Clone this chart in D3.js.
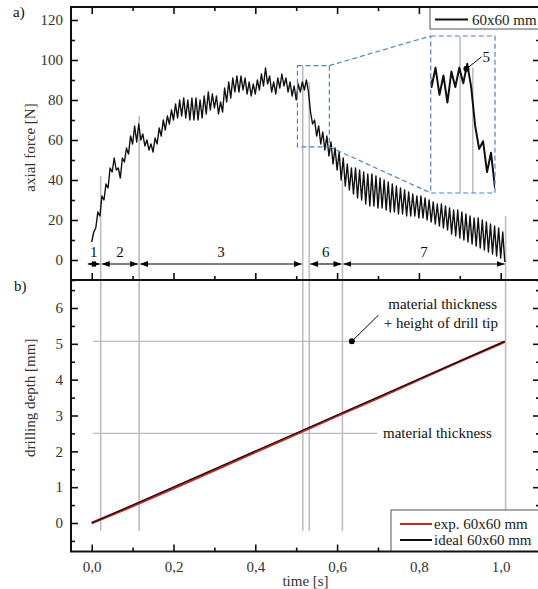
<!DOCTYPE html>
<html>
<head>
<meta charset="utf-8">
<script src="https://cdn.jsdelivr.net/npm/d3@7"></script>
<style>
  body { margin: 0; background: #fff; }
  svg { font-family: "Liberation Serif", "Times New Roman", serif; }
</style>
</head>
<body>
<svg id="chart" width="538" height="589"></svg>
<script>
// axial force [N], one sample every 0.005 s starting at t = 0
const forceStep = 0.005
const force = [
  9, 14, 16, 24, 22, 32, 30, 38, 36, 46,
  44, 51, 45, 46, 41, 51, 49, 56, 53, 62,
  58, 67, 59, 68, 60, 63, 57, 60, 55, 58,
  54, 61, 58, 66, 62, 70, 65, 72, 68, 75,
  70, 78, 71, 80, 72, 81, 71, 80, 70, 81,
  70, 81, 70, 80, 71, 82, 73, 84, 75, 83,
  76, 82, 73, 79, 74, 86, 79, 89, 81, 91,
  84, 92, 84, 92, 85, 91, 83, 89, 82, 88,
  83, 90, 85, 93, 87, 96, 88, 92, 84, 89,
  83, 91, 86, 93, 87, 91, 84, 89, 82, 87,
  80, 88, 84, 89, 85, 90, 84, 74, 68, 70,
  62, 67, 58, 64, 55, 62, 52, 59, 48, 56,
  45, 54, 40, 51, 37, 48, 35, 46, 33, 46,
  31, 45, 30, 44, 28, 43, 27, 43, 27, 42,
  26, 41, 26, 40, 25, 39, 24, 38, 24, 37,
  23, 36, 23, 35, 22, 34, 22, 33, 22, 32,
  21, 32, 21, 31, 20, 30, 19, 29, 18, 28,
  17, 28, 16, 27, 15, 26, 13, 25, 12, 25,
  11, 24, 10, 23, 9, 22, 8, 21, 7, 21,
  6, 20, 5, 19, 4, 18, 3, 17, 2, 16,
  1, 14, -1
]

// drilling depth [mm]
const depthTime = [0, 0.1, 0.2, 0.3, 0.4, 0.5, 0.6, 0.7, 0.8, 0.9, 1.0, 1.01]
const expDepth = [0, 0.47, 0.97, 1.47, 1.98, 2.48, 2.99, 3.49, 4.0, 4.51, 5.01, 5.06]
const idealTime = [0, 1.01]
const idealDepth = [0, 5.07]

// phase boundaries [s] and how far up the grey marker reaches in a) [N]
const phaseBounds = [0.022, 0.116, 0.516, 0.532, 0.613, 1.012]
const boundTop = [42, 72, 97, 89, 40, 22]
const phaseLabels = ['1', '2', '3', '6', '7']
const phaseFrom = [-0.012, 0.022, 0.116, 0.532, 0.613]
const phaseTo = [0.022, 0.116, 0.516, 0.613, 1.012]

const thickness = 2.5        // material thickness [mm]
const thicknessTip = 5.07    // + height of drill tip [mm]
const point5 = [0.524, 88.7]

const xTicks = [0, 0.2, 0.4, 0.6, 0.8, 1.0]
const xMinor = [0.1, 0.3, 0.5, 0.7, 0.9]
const forceTicks = [0, 20, 40, 60, 80, 100, 120]
const forceMinor = [-10, 10, 30, 50, 70, 90, 110]
const depthTicks = [0, 1, 2, 3, 4, 5, 6]
const depthMinor = [-0.5, 0.5, 1.5, 2.5, 3.5, 4.5, 5.5, 6.5]

// layout
const L = 71, R = 540
const aTop = 7, mid = 280, bBot = 551.5
const grey = '#bdbdbd', blue = '#4f86c6', red = '#c62828'
const fs = 15

const svg = d3.select('#chart')
const x = d3.scaleLinear().domain([0, 1]).range([91.7, 500.7])
const yF = d3.scaleLinear().domain([0, 120]).range([260, 20])
const yD = d3.scaleLinear().domain([0, 6]).range([523, 308])
const comma = d3.formatLocale({decimal: ',', thousands: '.', grouping: [3], currency: ['', '']})

const defs = svg.append('defs')
defs.append('marker').attr('id', 'arr')
    .attr('markerUnits', 'userSpaceOnUse')
    .attr('viewBox', '0 0 8 6').attr('markerWidth', 8).attr('markerHeight', 6)
    .attr('refX', 8).attr('refY', 3).attr('orient', 'auto-start-reverse')
    .append('path').attr('d', 'M0,0L8,3L0,6Z').attr('fill', '#000')

function styleAxis(g) {
    g.select('.domain').remove()
    g.selectAll('.tick line').attr('stroke', '#111').attr('stroke-width', 1.6)
    g.selectAll('.tick text').attr('fill', '#333').attr('font-size', fs)
        .attr('font-family', '"Liberation Serif", serif')
}
function axisPair(axisFn, scale, major, minor, pos, isX, labels, fmt) {
    let g = svg.append('g').attr('transform', isX ? `translate(0,${pos})` : `translate(${pos},0)`)
    g.call(axisFn(scale).tickValues(major).tickSizeInner(-7).tickSizeOuter(0).tickPadding(isX ? 10 : 8)
        .tickFormat(labels ? fmt : ''))
    styleAxis(g)
    let m = svg.append('g').attr('transform', isX ? `translate(0,${pos})` : `translate(${pos},0)`)
    m.call(axisFn(scale).tickValues(minor).tickSizeInner(-4).tickSizeOuter(0).tickFormat(''))
    styleAxis(m)
}

// ---------- panel a) ----------
// phase boundary markers
svg.append('g').selectAll('line').data(phaseBounds).join('line')
    .attr('x1', d => x(d)).attr('x2', d => x(d))
    .attr('y1', mid).attr('y2', (d, i) => yF(boundTop[i]))
    .attr('stroke', grey).attr('stroke-width', 1.6)

const forceLine = d3.line().x((d, i) => x(i * forceStep)).y(d => yF(d))
svg.append('path').datum(force).attr('d', forceLine)
    .attr('fill', 'none').attr('stroke', '#111').attr('stroke-width', 1.4).attr('stroke-linejoin', 'round')

// phase arrows
const arrowY = yF(-2)
svg.append('g').selectAll('line').data(phaseLabels).join('line')
    .attr('x1', (d, i) => x(phaseFrom[i]) + 1).attr('x2', (d, i) => x(phaseTo[i]) - 1)
    .attr('y1', arrowY).attr('y2', arrowY)
    .attr('stroke', '#000').attr('stroke-width', 1.1)
    .attr('marker-start', 'url(#arr)').attr('marker-end', 'url(#arr)')
svg.append('g').selectAll('text').data(phaseLabels).join('text')
    .attr('x', (d, i) => (x(phaseFrom[i]) + x(phaseTo[i])) / 2).attr('y', yF(1.5))
    .attr('text-anchor', 'middle').attr('font-size', fs).attr('fill', '#111').text(d => d)

// zoom box and inset
const zoomT = [0.503, 0.581], zoomF = [56.6, 97.2]
const insetT = [0.829, 0.986], insetF = [33.5, 112]
svg.append('rect').attr('x', x(zoomT[0])).attr('y', yF(zoomF[1]))
    .attr('width', x(zoomT[1]) - x(zoomT[0])).attr('height', yF(zoomF[0]) - yF(zoomF[1]))
    .attr('fill', 'none').attr('stroke', blue).attr('stroke-width', 1.2).attr('stroke-dasharray', '5,3')
svg.append('line').attr('x1', x(zoomT[1])).attr('y1', yF(zoomF[1])).attr('x2', x(insetT[0])).attr('y2', yF(insetF[1]))
    .attr('stroke', blue).attr('stroke-width', 1.2).attr('stroke-dasharray', '5,3')
svg.append('line').attr('x1', x(zoomT[1])).attr('y1', yF(zoomF[0])).attr('x2', x(insetT[0])).attr('y2', yF(insetF[0]))
    .attr('stroke', blue).attr('stroke-width', 1.2).attr('stroke-dasharray', '5,3')

const ix = d3.scaleLinear().domain([0.479, 0.560]).range([x(insetT[0]), x(insetT[1])])
const iy = d3.scaleLinear().domain(zoomF).range([yF(insetF[0]), yF(insetF[1])])
defs.append('clipPath').attr('id', 'insetClip').append('rect')
    .attr('x', x(insetT[0])).attr('y', yF(insetF[1]))
    .attr('width', x(insetT[1]) - x(insetT[0])).attr('height', yF(insetF[0]) - yF(insetF[1]))
const inset = svg.append('g').attr('clip-path', 'url(#insetClip)')
inset.selectAll('line').data(phaseBounds.slice(2, 4)).join('line')
    .attr('x1', d => ix(d)).attr('x2', d => ix(d))
    .attr('y1', yF(insetF[0])).attr('y2', (d, i) => iy(boundTop[i + 2]))
    .attr('stroke', grey).attr('stroke-width', 1.6)
inset.append('path').datum(force)
    .attr('d', d3.line().x((d, i) => ix(i * forceStep)).y(d => iy(d)))
    .attr('fill', 'none').attr('stroke', '#111').attr('stroke-width', 2).attr('stroke-linejoin', 'round')
svg.append('rect').attr('x', x(insetT[0])).attr('y', yF(insetF[1]))
    .attr('width', x(insetT[1]) - x(insetT[0])).attr('height', yF(insetF[0]) - yF(insetF[1]))
    .attr('fill', 'none').attr('stroke', blue).attr('stroke-width', 1.2).attr('stroke-dasharray', '5,3')
svg.append('circle').attr('cx', ix(point5[0])).attr('cy', iy(point5[1])).attr('r', 3).attr('fill', '#000')
svg.append('line').attr('x1', ix(point5[0])).attr('y1', iy(point5[1]))
    .attr('x2', ix(point5[0]) + 15).attr('y2', iy(point5[1]) - 12).attr('stroke', '#000').attr('stroke-width', 1)
svg.append('text').attr('x', ix(point5[0]) + 16).attr('y', iy(point5[1]) - 7)
    .attr('font-size', fs).attr('fill', '#111').text('5')

// axes of a)
axisPair(d3.axisLeft, yF, forceTicks, forceMinor, L, false, true, d3.format('d'))
axisPair(d3.axisRight, yF, forceTicks, forceMinor, R, false, false)
axisPair(d3.axisTop, x, xTicks, xMinor, aTop, true, false)
axisPair(d3.axisBottom, x, xTicks, xMinor, mid, true, false)

// legend a)
svg.append('rect').attr('x', 430).attr('y', aTop).attr('width', 112).attr('height', 22)
    .attr('fill', '#fff').attr('stroke', '#555').attr('stroke-width', 1)
svg.append('line').attr('x1', 435).attr('x2', 468).attr('y1', 19.5).attr('y2', 19.5)
    .attr('stroke', '#111').attr('stroke-width', 2)
svg.append('text').attr('x', 472).attr('y', 24.5).attr('font-size', fs).attr('fill', '#222').text('60x60 mm')

// ---------- panel b) ----------
svg.append('g').selectAll('line').data(phaseBounds).join('line')
    .attr('x1', d => x(d)).attr('x2', d => x(d))
    .attr('y1', mid).attr('y2', yD(-0.22))
    .attr('stroke', grey).attr('stroke-width', 1.6)
svg.append('line').attr('x1', x(0.003)).attr('x2', x(phaseBounds[5]))
    .attr('y1', yD(thicknessTip)).attr('y2', yD(thicknessTip)).attr('stroke', grey).attr('stroke-width', 1.4)
svg.append('line').attr('x1', x(0.003)).attr('x2', x(0.699))
    .attr('y1', yD(thickness)).attr('y2', yD(thickness)).attr('stroke', grey).attr('stroke-width', 1.4)

const depthLine = d3.line().x(d => x(d[0])).y(d => yD(d[1]))
svg.append('path').datum(d3.zip(depthTime, expDepth)).attr('d', depthLine)
    .attr('fill', 'none').attr('stroke', red).attr('stroke-width', 2.6)
svg.append('path').datum(d3.zip(idealTime, idealDepth)).attr('d', depthLine)
    .attr('fill', 'none').attr('stroke', '#111').attr('stroke-width', 1.3)

// annotations
svg.append('circle').attr('cx', x(0.636)).attr('cy', yD(thicknessTip)).attr('r', 3).attr('fill', '#000')
svg.append('line').attr('x1', x(0.636)).attr('y1', yD(thicknessTip))
    .attr('x2', x(0.701)).attr('y2', yD(5.8)).attr('stroke', '#000').attr('stroke-width', 1)
svg.append('text').attr('x', 497).attr('y', 309).attr('text-anchor', 'end')
    .attr('font-size', fs).attr('fill', '#111').text('material thickness')
svg.append('text').attr('x', 498).attr('y', 327.5).attr('text-anchor', 'end')
    .attr('font-size', fs).attr('fill', '#111').text('+ height of drill tip')
svg.append('text').attr('x', 383).attr('y', 437.5)
    .attr('font-size', fs).attr('fill', '#111').text('material thickness')

// axes of b)
axisPair(d3.axisLeft, yD, depthTicks, depthMinor, L, false, true, d3.format('d'))
axisPair(d3.axisRight, yD, depthTicks, depthMinor, R, false, false)
axisPair(d3.axisBottom, x, xTicks, xMinor, bBot, true, true, comma.format('.1f'))

// legend b)
svg.append('rect').attr('x', 391).attr('y', 510).attr('width', 151).attr('height', bBot - 510)
    .attr('fill', '#fff').attr('stroke', '#555').attr('stroke-width', 1)
svg.append('line').attr('x1', 400).attr('x2', 432).attr('y1', 524).attr('y2', 524)
    .attr('stroke', red).attr('stroke-width', 2)
svg.append('text').attr('x', 434).attr('y', 528.5).attr('font-size', fs).attr('fill', '#222').text('exp. 60x60 mm')
svg.append('line').attr('x1', 400).attr('x2', 432).attr('y1', 540).attr('y2', 540)
    .attr('stroke', '#111').attr('stroke-width', 2)
svg.append('text').attr('x', 434).attr('y', 545).attr('font-size', fs).attr('fill', '#222').text('ideal 60x60 mm')

// frames
svg.append('rect').attr('x', L).attr('y', aTop).attr('width', R - L).attr('height', bBot - aTop)
    .attr('fill', 'none').attr('stroke', '#111').attr('stroke-width', 2)
svg.append('line').attr('x1', L).attr('x2', R).attr('y1', mid).attr('y2', mid)
    .attr('stroke', '#111').attr('stroke-width', 2)

// titles
svg.append('text').attr('transform', `translate(35,${(aTop + mid) / 2 + 4}) rotate(-90)`)
    .attr('text-anchor', 'middle').attr('font-size', fs).attr('fill', '#333').text('axial force [N]')
svg.append('text').attr('transform', `translate(35,${(mid + bBot) / 2 - 18}) rotate(-90)`)
    .attr('text-anchor', 'middle').attr('font-size', fs).attr('fill', '#333').text('drilling depth [mm]')
svg.append('text').attr('x', (L + R) / 2).attr('y', 586).attr('text-anchor', 'middle')
    .attr('font-size', fs).attr('fill', '#333').text('time [s]')
svg.append('text').attr('x', 13).attr('y', 17).attr('font-size', fs).attr('fill', '#111').text('a)')
svg.append('text').attr('x', 14).attr('y', 291).attr('font-size', fs).attr('fill', '#111').text('b)')
</script>
</body>
</html>
